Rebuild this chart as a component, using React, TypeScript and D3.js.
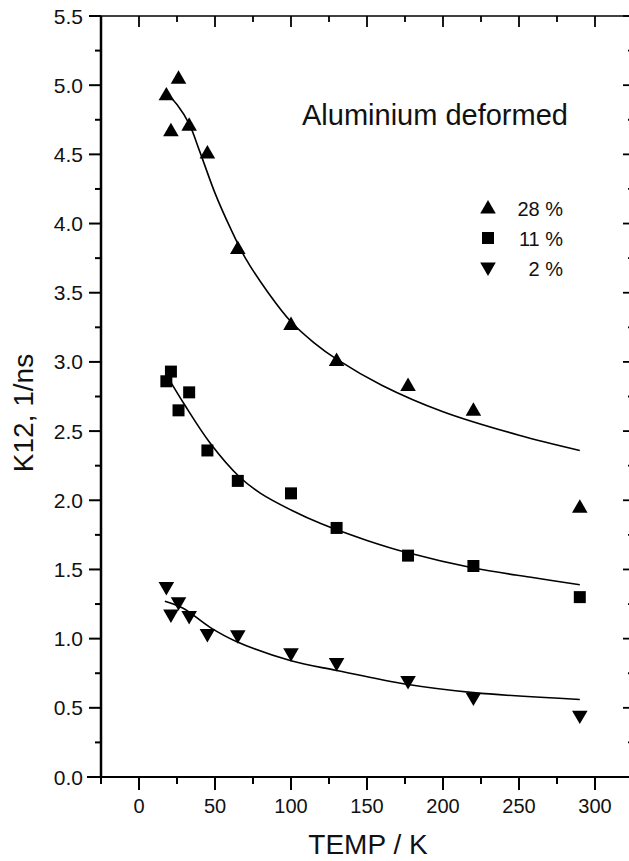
import React from "react";
import * as d3 from "d3";

const temps = [18, 21, 26, 33, 45, 65, 100, 130, 177, 220, 290];
const k28 = [4.93, 4.67, 5.05, 4.71, 4.51, 3.82, 3.27, 3.01, 2.83, 2.65, 1.95];
const k11 = [2.86, 2.93, 2.65, 2.78, 2.36, 2.14, 2.05, 1.8, 1.6, 1.525, 1.3];
const k2 = [1.37, 1.17, 1.26, 1.16, 1.03, 1.02, 0.89, 0.82, 0.69, 0.57, 0.44];

// fitted curves
const fitT28 = [20, 25, 33, 40, 50, 60, 70, 85, 100, 115, 130, 160, 200, 250, 290];
const fit28 = [4.92, 4.86, 4.72, 4.52, 4.22, 3.97, 3.75, 3.5, 3.29, 3.14, 3.02, 2.83, 2.64, 2.47, 2.36];
const fitT11 = [20, 30, 47, 66, 80, 100, 120, 150, 177, 220, 260, 290];
const fit11 = [2.87, 2.69, 2.41, 2.17, 2.05, 1.93, 1.83, 1.71, 1.62, 1.51, 1.44, 1.39];
const fitT2 = [17, 29, 47, 64, 100, 130, 176, 220, 290];
const fit2 = [1.27, 1.22, 1.08, 0.98, 0.84, 0.77, 0.67, 0.61, 0.56];

const legendLabels = ["28 %", "11 %", "2 %"];
const xTickLabels = [0, 50, 100, 150, 200, 250, 300];
const yTickLabels = [0, 0.5, 1, 1.5, 2, 2.5, 3, 3.5, 4, 4.5, 5, 5.5];

const W = 629;
const H = 861;
const font = "'Liberation Sans', Arial, Helvetica, sans-serif";

const x = d3.scaleLinear().domain([-25, 325]).range([101, 633]);
const y = d3.scaleLinear().domain([0, 5.5]).range([777, 16]);

const triUp = d3.symbol().type(d3.symbolTriangle).size(105)();
const square = d3.symbol().type(d3.symbolSquare).size(144)();

const line = d3
  .line<[number, number]>()
  .x((d) => x(d[0]))
  .y((d) => y(d[1]))
  .curve(d3.curveCatmullRom.alpha(0.5));

function Marker({ kind, cx, cy }: { kind: number; cx: number; cy: number }) {
  if (kind === 0) return <path d={triUp!} transform={`translate(${cx},${cy + 1})`} fill="#000" />;
  if (kind === 1) return <path d={square!} transform={`translate(${cx},${cy})`} fill="#000" />;
  return <path d={triUp!} transform={`translate(${cx},${cy - 1}) rotate(180)`} fill="#000" />;
}

export default function App() {
  const series = [k28, k11, k2];
  const fits: [number[], number[]][] = [
    [fitT28, fit28],
    [fitT11, fit11],
    [fitT2, fit2],
  ];
  const xMinor = d3.range(-25, 326, 25);
  const yMinor = d3.range(0, 5.51, 0.25);
  const x0 = x(-25);
  const x1 = x(325);
  const y0 = y(0);
  const y1 = y(5.5);

  return (
    <svg
      width={W}
      height={H}
      style={{ position: "absolute", left: 0, top: 0, background: "#fff" }}
      fontFamily={font}
    >
      <rect width={W} height={H} fill="#fff" />

      {/* frame */}
      <line x1={x0} x2={x0} y1={y1} y2={y0 + 1} stroke="#000" strokeWidth={2.5} />
      <line x1={x0 - 14} x2={x1} y1={y0} y2={y0} stroke="#000" strokeWidth={2.2} />
      <line x1={x0} x2={x1} y1={y1} y2={y1} stroke="#000" strokeWidth={1.6} />
      <line x1={x1} x2={x1} y1={y1} y2={y0} stroke="#000" strokeWidth={1.6} />

      {/* x ticks */}
      {xMinor.map((t) => {
        const major = t % 50 === 0;
        return (
          <g key={"xt" + t}>
            <line x1={x(t)} x2={x(t)} y1={y0} y2={y0 + (major ? 13 : 7)} stroke="#000" strokeWidth={2} />
            <line x1={x(t)} x2={x(t)} y1={y1} y2={y1 + (major ? 11 : 6)} stroke="#000" strokeWidth={1.8} />
          </g>
        );
      })}
      {xTickLabels.map((t) => (
        <text key={"xl" + t} x={x(t)} y={813} fontSize={20} textAnchor="middle" fill="#111">
          {t}
        </text>
      ))}

      {/* y ticks */}
      {yMinor.map((v) => {
        const major = Math.abs(v * 2 - Math.round(v * 2)) < 1e-6;
        return (
          <g key={"yt" + v}>
            <line x1={x0} x2={x0 - (major ? 12 : 6)} y1={y(v)} y2={y(v)} stroke="#000" strokeWidth={2} />
            <line x1={x1} x2={x1 - (major ? 10 : 5)} y1={y(v)} y2={y(v)} stroke="#000" strokeWidth={1.8} />
          </g>
        );
      })}
      {yTickLabels.map((v) => (
        <text key={"yl" + v} x={83} y={y(v) + 7.5} fontSize={21} textAnchor="end" fill="#111">
          {v.toFixed(1)}
        </text>
      ))}

      {/* axis titles */}
      <text x={368} y={854} fontSize={28} textAnchor="middle" fill="#111">
        TEMP / K
      </text>
      <text
        transform={`translate(33,413) rotate(-90)`}
        fontSize={28}
        textAnchor="middle"
        fill="#111"
      >
        K12, 1/ns
      </text>

      {/* fits */}
      {fits.map(([ts, vs], i) => (
        <path
          key={"fit" + i}
          d={line(ts.map((t, j) => [t, vs[j]] as [number, number]))!}
          fill="none"
          stroke="#000"
          strokeWidth={1.6}
        />
      ))}

      {/* points */}
      {series.map((vals, i) =>
        vals.map((v, j) => <Marker key={`p${i}-${j}`} kind={i} cx={x(temps[j])} cy={y(v)} />)
      )}

      {/* annotation */}
      <text x={302} y={125} fontSize={29} fill="#111">
        Aluminium deformed
      </text>

      {/* legend */}
      {legendLabels.map((lab, i) => (
        <g key={"lg" + i}>
          <Marker kind={i} cx={488} cy={208 + i * 30} />
          <text x={563} y={216 + i * 30} fontSize={20} textAnchor="end" fill="#111">
            {lab}
          </text>
        </g>
      ))}
    </svg>
  );
}
